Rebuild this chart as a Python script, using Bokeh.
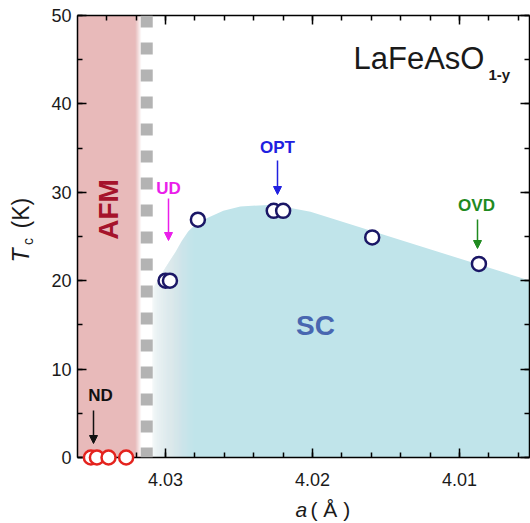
import math
from bokeh.plotting import figure
from bokeh.models import (LinearAxis, Range1d, FixedTicker, Label, Arrow, NormalHead,
                          Span, CustomJSTickFormatter)
from bokeh.core.properties import value
from bokeh.embed import file_html
from bokeh.resources import INLINE

# ---------------- data ----------------
nd_a = [4.03508, 4.03467, 4.03388, 4.03268]          # not detected (Tc = 0)
nd_tc = [0, 0, 0, 0]
sc_a = [4.0300, 4.0297, 4.0278, 4.02264, 4.0220, 4.01594, 4.00868]
sc_tc = [20.0, 20.0, 26.9, 27.9, 27.9, 24.9, 21.9]
dome_a = [4.0309, 4.0300, 4.02934, 4.0289, 4.02845, 4.0280, 4.02716, 4.02607, 4.02491,
          4.02266, 4.02014, 4.00500]
dome_tc = [19.0, 21.5, 23.2, 24.5, 25.6, 26.3, 27.1, 27.9, 28.4, 28.6, 27.8, 19.9]
afm_edge = 4.03207          # AFM region right edge
afm_fade = 4.03165
boundary_a = 4.03128        # dashed phase boundary
sc_fade_start = 4.0310
sc_fade_end = 4.0280
x_major = [4.00, 4.01, 4.02, 4.03, 4.04]
x_minor = [round(4.000 + 0.002 * i, 3) for i in range(21)]
y_major = [0, 10, 20, 30, 40, 50]
y_minor = [5 * i for i in range(11)]

# ---------------- geometry helpers (picture px -> data) ----------------
X0, X1 = 4.03599, 4.00524
FL, FR, FT, FB = 77, 529, 15, 457
def ax(px):
    return X0 + (px - FL) * (X1 - X0) / (FR - FL)
def ty(py):
    return (FB - py) * 50.0 / (FB - FT)

FONT = "Liberation Sans"
PINK = "#eabcbc"
BLUE_FILL = "#c0e4ea"

p = figure(width=530, height=523, x_range=Range1d(X0, X1), y_range=Range1d(0, 50),
           output_backend="svg", toolbar_location=None,
           min_border_left=FL, min_border_right=530 - FR, min_border_top=FT,
           min_border_bottom=523 - FB,
           background_fill_color="white", border_fill_color="white")
p.outline_line_color = None
p.grid.visible = False

def fade(left_edge, x_from, x_to, bottom, top_, color, n):
    """Nested quads giving a linear opacity ramp from 1 at x_from to 0 at x_to."""
    for k in range(1, n + 1):
        r = x_from + (x_to - x_from) * k / n
        if k < n:
            alpha = 1 - (k - 0.5) / (k + 0.5)
        else:
            alpha = 0.5 / n
        p.quad(left=left_edge, right=r, bottom=bottom, top=top_, fill_color=color,
               fill_alpha=alpha, line_color=None)

# SC dome
p.patch(dome_a + [dome_a[-1], dome_a[0]], dome_tc + [0, 0],
        fill_color=BLUE_FILL, line_color=None)
# white fade at the left of the dome
fade(sc_fade_start + 0.0002, sc_fade_start, sc_fade_end, 0, 32, "white", 40)

# AFM region
p.quad(left=X0 + 0.001, right=afm_edge, bottom=0, top=50, fill_color=PINK, line_color=None)
fade(X0 + 0.001, afm_edge, afm_fade, 0, 50, PINK, 12)

p.add_layout(Span(location=boundary_a, dimension="height", line_color="#b3b3b3",
                  line_width=12, line_dash="12 15"))

# points
p.scatter(sc_a, sc_tc, marker="circle", size=14, fill_color="white",
          line_color="#1b1766", line_width=2.5)
p.scatter(nd_a, nd_tc, marker="circle", size=14, fill_color="white",
          line_color="#e4231e", line_width=2.5, level="overlay")

# axes
xt = FixedTicker(ticks=x_major, minor_ticks=x_minor)
yt = FixedTicker(ticks=y_major, minor_ticks=y_minor)
for a in p.xaxis:
    a.ticker = xt
for a in p.yaxis:
    a.ticker = yt

blank = CustomJSTickFormatter(code="return ''")
top = LinearAxis(ticker=xt, formatter=blank, major_label_standoff=0)
right = LinearAxis(ticker=yt, formatter=blank, major_label_standoff=0)
p.add_layout(top, "above")
p.add_layout(right, "right")

for a in list(p.xaxis) + list(p.yaxis):
    a.axis_line_color = "black"
    a.axis_line_width = 1.5
    a.major_tick_line_color = "black"
    a.minor_tick_line_color = "black"
    a.major_tick_line_width = 1.5
    a.minor_tick_line_width = 1.5
    a.major_tick_in = 9
    a.major_tick_out = 0
    a.minor_tick_in = 5
    a.minor_tick_out = 0
    a.major_label_text_font = FONT
    a.major_label_text_color = "#1a1a1a"
    a.major_label_text_font_size = "18px"

p.below[0].major_label_standoff = 15
p.left[0].major_label_standoff = 6

def lab(px, py, text, size, color="#1a1a1a", style="normal", align="left", angle=0.0):
    p.add_layout(Label(x=ax(px), y=ty(py), text=text, text_font=FONT,
                       text_font_size=f"{size}px", text_color=color,
                       text_font_style=style, text_align=align,
                       text_baseline="middle", angle=angle))

def outside(px, py, text, size, style="normal", angle=0.0):
    p.text(x=[ax(px)], y=[ty(py)], text=[text], text_font=value(FONT),
           text_font_size=value(f"{size}px"), text_color="#1a1a1a",
           text_font_style=style, text_align="left", text_baseline="middle",
           angle=angle, level="overlay")

# axis titles
outside(295, 508.5, "a", 21, style="italic")
outside(310, 508.5, "( Å )", 21)
outside(20, 262, "T", 23, style="italic", angle=math.pi / 2)
outside(27, 244.5, "c", 14, angle=math.pi / 2)
outside(20, 228, "(K)", 23, angle=math.pi / 2)

# region labels
lab(108, 209, "AFM", 28, color="#a5132b", style="bold", align="center", angle=math.pi / 2)
lab(315, 325, "SC", 28, color="#4866b0", style="bold", align="center")
lab(353, 57.5, "LaFeAsO", 31)
lab(488, 73.5, "1-y", 15, style="bold")

# annotations with arrows
def note(px, py, text, color, ax_px, y0, y1):
    lab(px, py, text, 17, color=color, style="bold", align="center")
    p.add_layout(Arrow(end=NormalHead(size=8, fill_color=color, line_color=color),
                       x_start=ax(ax_px), y_start=ty(y0), x_end=ax(ax_px), y_end=ty(y1),
                       line_color=color, line_width=1.5))

note(168, 188, "UD", "#ea1eea", 168, 198, 240)
note(277, 147, "OPT", "#2020e0", 277, 160, 194)
note(476, 205, "OVD", "#1f8a1f", 477, 219, 248)
note(100, 395, "ND", "#111111", 93, 410, 443)

open("out.html", "w").write(file_html(p, INLINE))
